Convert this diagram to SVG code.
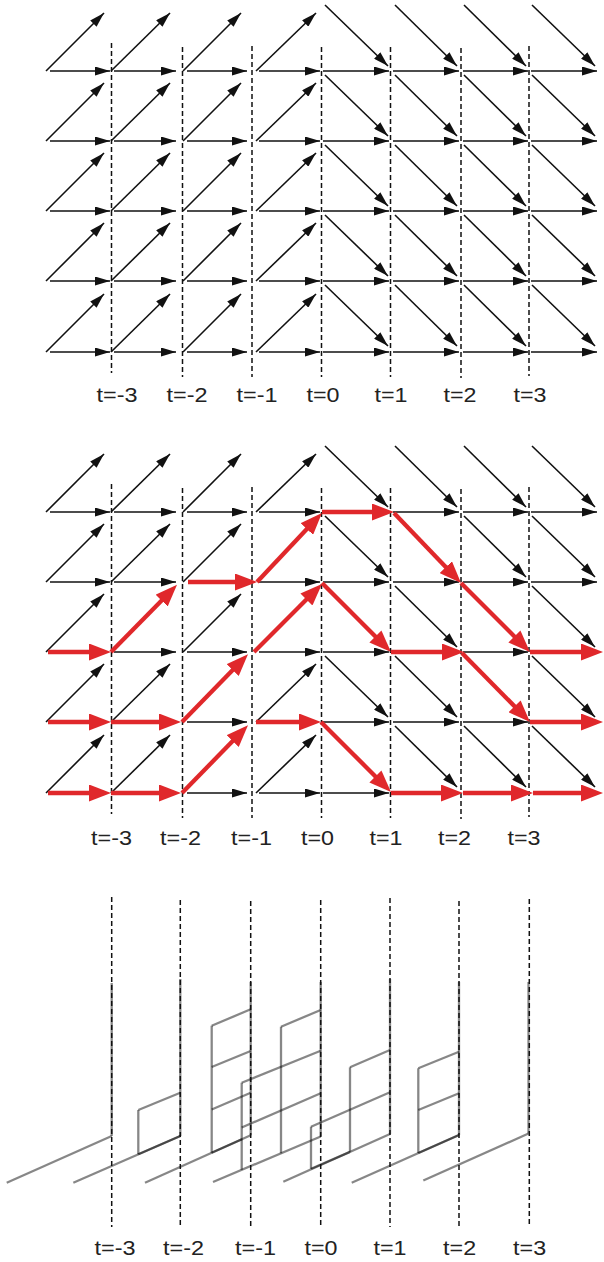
<svg xmlns="http://www.w3.org/2000/svg" width="604" height="1262" viewBox="0 0 604 1262">
<style>
.a{stroke:#111;stroke-width:1.6;fill:none;marker-end:url(#ah)}
.r{stroke:#e0282b;stroke-width:4.3;fill:none;marker-end:url(#rh)}
.d{stroke:#111;stroke-width:1.5;stroke-dasharray:5 3;fill:none}
.g{stroke:#000;stroke-opacity:0.47;stroke-width:2.3;fill:none}
.lb{font-family:"Liberation Sans",Arial,sans-serif;font-size:20px;fill:#222;text-anchor:middle}
</style>
<defs>
<marker id="ah" markerUnits="userSpaceOnUse" viewBox="0 0 15 9" markerWidth="15" markerHeight="9" refX="15" refY="4.5" orient="auto"><path d="M0,0 L15,4.5 L0,9 z" fill="#111"/></marker>
<marker id="rh" markerUnits="userSpaceOnUse" viewBox="0 0 22 17" markerWidth="22" markerHeight="17" refX="12" refY="8.5" orient="auto"><path d="M0,0 L22,8.5 L0,17 z" fill="#e0282b"/></marker>
</defs>
<rect width="604" height="1262" fill="#fff"/>

<g id="grid-top">
<g id="dashed-top">
<line class="d" x1="111.5" y1="43" x2="111.5" y2="373"/>
<line class="d" x1="182.5" y1="47" x2="182.5" y2="377"/>
<line class="d" x1="252" y1="46" x2="252" y2="377"/>
<line class="d" x1="321.5" y1="47" x2="321.5" y2="377"/>
<line class="d" x1="390.5" y1="47" x2="390.5" y2="377"/>
<line class="d" x1="461" y1="48" x2="461" y2="378"/>
<line class="d" x1="529" y1="46" x2="529" y2="376"/>
</g>
<g id="edges-top-left">
<line class="a" x1="50" y1="71" x2="110" y2="71"/><line class="a" x1="114" y1="71" x2="176" y2="71"/><line class="a" x1="187" y1="71" x2="247" y2="71"/><line class="a" x1="259" y1="71" x2="320" y2="71"/>
<line class="a" x1="50" y1="141" x2="110" y2="141"/><line class="a" x1="114" y1="141" x2="176" y2="141"/><line class="a" x1="187" y1="141" x2="247" y2="141"/><line class="a" x1="259" y1="141" x2="320" y2="141"/>
<line class="a" x1="50" y1="211" x2="110" y2="211"/><line class="a" x1="114" y1="211" x2="176" y2="211"/><line class="a" x1="187" y1="211" x2="247" y2="211"/><line class="a" x1="259" y1="211" x2="320" y2="211"/>
<line class="a" x1="50" y1="281" x2="110" y2="281"/><line class="a" x1="114" y1="281" x2="176" y2="281"/><line class="a" x1="187" y1="281" x2="247" y2="281"/><line class="a" x1="259" y1="281" x2="320" y2="281"/>
<line class="a" x1="50" y1="352" x2="110" y2="352"/><line class="a" x1="114" y1="352" x2="176" y2="352"/><line class="a" x1="187" y1="352" x2="247" y2="352"/><line class="a" x1="259" y1="352" x2="320" y2="352"/>
<line class="a" x1="46" y1="71" x2="104" y2="13"/><line class="a" x1="111" y1="71" x2="170" y2="13"/><line class="a" x1="183" y1="71" x2="241" y2="13"/><line class="a" x1="256" y1="71" x2="316" y2="13"/>
<line class="a" x1="46" y1="141" x2="104" y2="83"/><line class="a" x1="111" y1="141" x2="170" y2="83"/><line class="a" x1="183" y1="141" x2="241" y2="83"/><line class="a" x1="256" y1="141" x2="316" y2="83"/>
<line class="a" x1="46" y1="211" x2="104" y2="153"/><line class="a" x1="111" y1="211" x2="170" y2="153"/><line class="a" x1="183" y1="211" x2="241" y2="153"/><line class="a" x1="256" y1="211" x2="316" y2="153"/>
<line class="a" x1="46" y1="281" x2="104" y2="223"/><line class="a" x1="111" y1="281" x2="170" y2="223"/><line class="a" x1="183" y1="281" x2="241" y2="223"/><line class="a" x1="256" y1="281" x2="316" y2="223"/>
<line class="a" x1="46" y1="352" x2="104" y2="294"/><line class="a" x1="111" y1="352" x2="170" y2="294"/><line class="a" x1="183" y1="352" x2="241" y2="294"/><line class="a" x1="256" y1="352" x2="316" y2="294"/>
</g>
<g id="edges-top-right">
<line class="a" x1="323" y1="71" x2="389" y2="71"/><line class="a" x1="393" y1="71" x2="459" y2="71"/><line class="a" x1="463" y1="71" x2="528" y2="71"/><line class="a" x1="531" y1="71" x2="597" y2="71"/>
<line class="a" x1="323" y1="141" x2="389" y2="141"/><line class="a" x1="393" y1="141" x2="459" y2="141"/><line class="a" x1="463" y1="141" x2="528" y2="141"/><line class="a" x1="531" y1="141" x2="597" y2="141"/>
<line class="a" x1="323" y1="211" x2="389" y2="211"/><line class="a" x1="393" y1="211" x2="459" y2="211"/><line class="a" x1="463" y1="211" x2="528" y2="211"/><line class="a" x1="531" y1="211" x2="597" y2="211"/>
<line class="a" x1="323" y1="281" x2="389" y2="281"/><line class="a" x1="393" y1="281" x2="459" y2="281"/><line class="a" x1="463" y1="281" x2="528" y2="281"/><line class="a" x1="531" y1="281" x2="597" y2="281"/>
<line class="a" x1="323" y1="352" x2="389" y2="352"/><line class="a" x1="393" y1="352" x2="459" y2="352"/><line class="a" x1="463" y1="352" x2="528" y2="352"/><line class="a" x1="531" y1="352" x2="597" y2="352"/>
<line class="a" x1="325" y1="5" x2="388" y2="66"/><line class="a" x1="395" y1="5" x2="457" y2="66"/><line class="a" x1="464" y1="5" x2="526" y2="66"/><line class="a" x1="532" y1="5" x2="595" y2="66"/>
<line class="a" x1="325" y1="75" x2="388" y2="136"/><line class="a" x1="395" y1="75" x2="457" y2="136"/><line class="a" x1="464" y1="75" x2="526" y2="136"/><line class="a" x1="532" y1="75" x2="595" y2="136"/>
<line class="a" x1="325" y1="145" x2="388" y2="206"/><line class="a" x1="395" y1="145" x2="457" y2="206"/><line class="a" x1="464" y1="145" x2="526" y2="206"/><line class="a" x1="532" y1="145" x2="595" y2="206"/>
<line class="a" x1="325" y1="215" x2="388" y2="276"/><line class="a" x1="395" y1="215" x2="457" y2="276"/><line class="a" x1="464" y1="215" x2="526" y2="276"/><line class="a" x1="532" y1="215" x2="595" y2="276"/>
<line class="a" x1="325" y1="285" x2="388" y2="346"/><line class="a" x1="395" y1="285" x2="457" y2="346"/><line class="a" x1="464" y1="285" x2="526" y2="346"/><line class="a" x1="532" y1="285" x2="595" y2="346"/>
</g>
</g>

<g id="grid-middle">
<g id="dashed-middle">
<line class="d" x1="111.5" y1="484" x2="111.5" y2="814"/>
<line class="d" x1="182.5" y1="488" x2="182.5" y2="818"/>
<line class="d" x1="252" y1="487" x2="252" y2="818"/>
<line class="d" x1="321.5" y1="488" x2="321.5" y2="818"/>
<line class="d" x1="390.5" y1="488" x2="390.5" y2="818"/>
<line class="d" x1="461" y1="489" x2="461" y2="819"/>
<line class="d" x1="529" y1="487" x2="529" y2="817"/>
</g>
<g id="edges-middle-left">
<line class="a" x1="50" y1="512" x2="110" y2="512"/><line class="a" x1="114" y1="512" x2="176" y2="512"/><line class="a" x1="187" y1="512" x2="247" y2="512"/><line class="a" x1="259" y1="512" x2="320" y2="512"/>
<line class="a" x1="50" y1="582" x2="110" y2="582"/><line class="a" x1="114" y1="582" x2="176" y2="582"/><line class="a" x1="259" y1="582" x2="320" y2="582"/>
<line class="a" x1="114" y1="652" x2="176" y2="652"/><line class="a" x1="187" y1="652" x2="247" y2="652"/><line class="a" x1="259" y1="652" x2="320" y2="652"/>
<line class="a" x1="187" y1="722" x2="247" y2="722"/>
<line class="a" x1="187" y1="793" x2="247" y2="793"/><line class="a" x1="259" y1="793" x2="320" y2="793"/>
<line class="a" x1="46" y1="512" x2="104" y2="454"/><line class="a" x1="111" y1="512" x2="170" y2="454"/><line class="a" x1="183" y1="512" x2="241" y2="454"/><line class="a" x1="256" y1="512" x2="316" y2="454"/>
<line class="a" x1="46" y1="582" x2="104" y2="524"/><line class="a" x1="111" y1="582" x2="170" y2="524"/><line class="a" x1="183" y1="582" x2="241" y2="524"/>
<line class="a" x1="46" y1="652" x2="104" y2="594"/><line class="a" x1="183" y1="652" x2="241" y2="594"/>
<line class="a" x1="46" y1="722" x2="104" y2="664"/><line class="a" x1="111" y1="722" x2="170" y2="664"/><line class="a" x1="256" y1="722" x2="316" y2="664"/>
<line class="a" x1="46" y1="793" x2="104" y2="735"/><line class="a" x1="111" y1="793" x2="170" y2="735"/><line class="a" x1="256" y1="793" x2="316" y2="735"/>
</g>
<g id="edges-middle-right">
<line class="a" x1="393" y1="512" x2="459" y2="512"/><line class="a" x1="463" y1="512" x2="528" y2="512"/><line class="a" x1="531" y1="512" x2="597" y2="512"/>
<line class="a" x1="323" y1="582" x2="389" y2="582"/><line class="a" x1="393" y1="582" x2="459" y2="582"/><line class="a" x1="463" y1="582" x2="528" y2="582"/><line class="a" x1="531" y1="582" x2="597" y2="582"/>
<line class="a" x1="323" y1="652" x2="389" y2="652"/><line class="a" x1="463" y1="652" x2="528" y2="652"/>
<line class="a" x1="323" y1="722" x2="389" y2="722"/><line class="a" x1="393" y1="722" x2="459" y2="722"/><line class="a" x1="463" y1="722" x2="528" y2="722"/>
<line class="a" x1="323" y1="793" x2="389" y2="793"/>
<line class="a" x1="325" y1="446" x2="388" y2="507"/><line class="a" x1="395" y1="446" x2="457" y2="507"/><line class="a" x1="464" y1="446" x2="526" y2="507"/><line class="a" x1="532" y1="446" x2="595" y2="507"/>
<line class="a" x1="325" y1="516" x2="388" y2="577"/><line class="a" x1="464" y1="516" x2="526" y2="577"/><line class="a" x1="532" y1="516" x2="595" y2="577"/>
<line class="a" x1="395" y1="586" x2="457" y2="647"/><line class="a" x1="532" y1="586" x2="595" y2="647"/>
<line class="a" x1="325" y1="656" x2="388" y2="717"/><line class="a" x1="395" y1="656" x2="457" y2="717"/><line class="a" x1="532" y1="656" x2="595" y2="717"/>
<line class="a" x1="395" y1="726" x2="457" y2="787"/><line class="a" x1="464" y1="726" x2="526" y2="787"/><line class="a" x1="532" y1="726" x2="595" y2="787"/>
</g>
</g>

<g id="red-paths">
<line class="r" x1="48" y1="652" x2="101" y2="652"/>
<line class="r" x1="111" y1="652" x2="170" y2="592"/>
<line class="r" x1="188" y1="582" x2="247" y2="582"/>
<line class="r" x1="257" y1="582" x2="315.1" y2="520.3"/>
<line class="r" x1="322" y1="512" x2="384" y2="512"/>
<line class="r" x1="394" y1="513" x2="454.1" y2="575.8"/>
<line class="r" x1="461" y1="583" x2="522.9" y2="644.9"/>
<line class="r" x1="530" y1="652" x2="593" y2="652"/>

<line class="r" x1="48" y1="722" x2="101" y2="722"/>
<line class="r" x1="111" y1="722" x2="171" y2="722"/>
<line class="r" x1="182" y1="722" x2="241" y2="661.5"/>
<line class="r" x1="254" y1="652" x2="314.9" y2="591"/>
<line class="r" x1="322" y1="583" x2="383.9" y2="644.9"/>
<line class="r" x1="391" y1="652" x2="454" y2="652"/>
<line class="r" x1="462" y1="653" x2="523" y2="714.9"/>
<line class="r" x1="530" y1="722" x2="593" y2="722"/>

<line class="r" x1="48" y1="793" x2="101" y2="793"/>
<line class="r" x1="111" y1="793" x2="171" y2="793"/>
<line class="r" x1="182" y1="793" x2="241" y2="732.5"/>
<line class="r" x1="256" y1="722" x2="311" y2="722"/>
<line class="r" x1="321" y1="722" x2="383.9" y2="784.9"/>
<line class="r" x1="391" y1="793" x2="453" y2="793"/>
<line class="r" x1="463" y1="793" x2="523" y2="793"/>
<line class="r" x1="533" y1="793" x2="593" y2="793"/>
</g>

<g id="bottom-panel">
<g id="bases">
<line class="g" x1="6.7" y1="1182.7" x2="111.7" y2="1136"/>
<line class="g" x1="73.3" y1="1182.7" x2="180.3" y2="1136"/>
<line class="g" x1="145" y1="1182.7" x2="250.7" y2="1135.3"/>
<line class="g" x1="213" y1="1182" x2="320.7" y2="1136.5"/>
<line class="g" x1="283.3" y1="1181.7" x2="390" y2="1134"/>
<line class="g" x1="351.7" y1="1182.7" x2="459" y2="1135"/>
<line class="g" x1="423.3" y1="1180.5" x2="528.5" y2="1133.5"/>
<line class="g" x1="111.7" y1="983" x2="111.7" y2="1136"/>
<line class="g" x1="180.3" y1="979" x2="180.3" y2="1136"/>
<line class="g" x1="250.7" y1="982" x2="250.7" y2="1135.3"/>
<line class="g" x1="320.7" y1="982" x2="320.7" y2="1136.5"/>
<line class="g" x1="390" y1="979" x2="390" y2="1134"/>
<line class="g" x1="459" y1="982" x2="459" y2="1135"/>
<line class="g" x1="528.5" y1="982" x2="528.5" y2="1133.5"/>
</g>
<g id="stack-tm2">
<line class="g" x1="138.3" y1="1154.3" x2="138.3" y2="1110"/>
<line class="g" x1="138.3" y1="1110" x2="180.3" y2="1092.7"/>
<line class="g" x1="138.3" y1="1154.3" x2="180.3" y2="1136"/>
</g>
<g id="stack-tm1">
<line class="g" x1="211.7" y1="1152.8" x2="211.7" y2="1025.7"/>
<line class="g" x1="211.7" y1="1109.5" x2="250.7" y2="1092.7"/>
<line class="g" x1="211.7" y1="1067" x2="250.7" y2="1051"/>
<line class="g" x1="211.7" y1="1025.7" x2="250.7" y2="1009.3"/>
<line class="g" x1="211.7" y1="1152.8" x2="242" y2="1139.2"/>
</g>
<g id="stack-t0">
<line class="g" x1="281" y1="1153.3" x2="281" y2="1026.7"/>
<line class="g" x1="241.7" y1="1169.9" x2="241.7" y2="1082.7"/>
<line class="g" x1="241.7" y1="1127.5" x2="320.7" y2="1093.3"/>
<line class="g" x1="241.7" y1="1082.7" x2="320.7" y2="1050.7"/>
<line class="g" x1="281" y1="1026.7" x2="320.7" y2="1010"/>
</g>
<g id="stack-t1">
<line class="g" x1="311" y1="1168.8" x2="311" y2="1126.7"/>
<line class="g" x1="350" y1="1151.9" x2="350" y2="1067.3"/>
<line class="g" x1="311" y1="1126.7" x2="390" y2="1092.3"/>
<line class="g" x1="350" y1="1067.3" x2="390" y2="1050"/>
<line class="g" x1="311" y1="1168.8" x2="350" y2="1151.9"/>
</g>
<g id="stack-t2">
<line class="g" x1="418.3" y1="1153" x2="418.3" y2="1068.3"/>
<line class="g" x1="418.3" y1="1110" x2="459" y2="1093.3"/>
<line class="g" x1="418.3" y1="1068.3" x2="459" y2="1051.7"/>
<line class="g" x1="418.3" y1="1153" x2="459" y2="1135"/>
</g>
<g id="dashed-bottom">
<line class="d" x1="111.7" y1="897" x2="111.7" y2="1227"/>
<line class="d" x1="180.3" y1="900" x2="180.3" y2="1227"/>
<line class="d" x1="250.7" y1="901" x2="250.7" y2="1227"/>
<line class="d" x1="320.7" y1="900" x2="320.7" y2="1227"/>
<line class="d" x1="390" y1="898" x2="390" y2="1227"/>
<line class="d" x1="459" y1="901" x2="459" y2="1227"/>
<line class="d" x1="529.3" y1="899" x2="529.3" y2="1227"/>
</g>
</g>

<g id="labels">
<text class="lb" x="117" y="401.5" textLength="41" lengthAdjust="spacingAndGlyphs">t=-3</text>
<text class="lb" x="187" y="401.5" textLength="41" lengthAdjust="spacingAndGlyphs">t=-2</text>
<text class="lb" x="257" y="401.5" textLength="41" lengthAdjust="spacingAndGlyphs">t=-1</text>
<text class="lb" x="323" y="401.5" textLength="33" lengthAdjust="spacingAndGlyphs">t=0</text>
<text class="lb" x="391" y="401.5" textLength="33" lengthAdjust="spacingAndGlyphs">t=1</text>
<text class="lb" x="460" y="401.5" textLength="33" lengthAdjust="spacingAndGlyphs">t=2</text>
<text class="lb" x="530" y="401.5" textLength="33" lengthAdjust="spacingAndGlyphs">t=3</text>
<text class="lb" x="111.5" y="845" textLength="41" lengthAdjust="spacingAndGlyphs">t=-3</text>
<text class="lb" x="180.5" y="845" textLength="41" lengthAdjust="spacingAndGlyphs">t=-2</text>
<text class="lb" x="251.5" y="845" textLength="41" lengthAdjust="spacingAndGlyphs">t=-1</text>
<text class="lb" x="317.5" y="845" textLength="33" lengthAdjust="spacingAndGlyphs">t=0</text>
<text class="lb" x="386" y="845" textLength="33" lengthAdjust="spacingAndGlyphs">t=1</text>
<text class="lb" x="454.5" y="845" textLength="33" lengthAdjust="spacingAndGlyphs">t=2</text>
<text class="lb" x="524" y="845" textLength="33" lengthAdjust="spacingAndGlyphs">t=3</text>
<text class="lb" x="115" y="1255" textLength="41" lengthAdjust="spacingAndGlyphs">t=-3</text>
<text class="lb" x="183.5" y="1255" textLength="41" lengthAdjust="spacingAndGlyphs">t=-2</text>
<text class="lb" x="255.5" y="1255" textLength="41" lengthAdjust="spacingAndGlyphs">t=-1</text>
<text class="lb" x="321" y="1255" textLength="33" lengthAdjust="spacingAndGlyphs">t=0</text>
<text class="lb" x="390" y="1255" textLength="33" lengthAdjust="spacingAndGlyphs">t=1</text>
<text class="lb" x="459.6" y="1255" textLength="33" lengthAdjust="spacingAndGlyphs">t=2</text>
<text class="lb" x="529.6" y="1255" textLength="33" lengthAdjust="spacingAndGlyphs">t=3</text>
</g>
</svg>
